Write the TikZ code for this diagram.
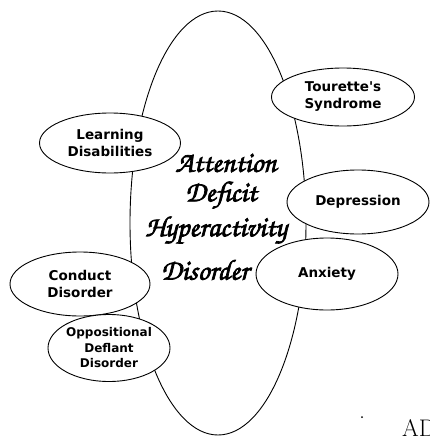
\documentclass[tikz,border=0pt]{standalone}
\usepackage{fontspec}
\usetikzlibrary{shapes.geometric}
\newfontfamily\lab{DejaVu Sans}
\newfontfamily\scr[FakeBold=2.5]{texgyrechorus-mediumitalic.otf}
\begin{document}
\begin{tikzpicture}[x=1pt,y=-1pt,
  oval/.style={draw,ellipse,line width=0.9pt,fill=white,inner sep=0pt,
    font=\lab\bfseries\fontsize{13.5}{17}\selectfont,align=center},
  big/.style={draw,line width=0.9pt},
  adhd/.style={font=\scr\fontsize{29}{29}\selectfont}]
\useasboundingbox (0,0) rectangle (429,437);
\draw[big] (218,223) ellipse [x radius=88, y radius=212];
\node[oval,minimum width=143pt,minimum height=58pt] (tour) at (343,97) {Tourette's\\Syndrome};
\node[oval,minimum width=141pt,minimum height=60pt] (ld) at (110,143) {Learning\\Disabilities};
\node[oval,minimum width=142pt,minimum height=64pt] (dep) at (358,202) {Depression};
\node[oval,minimum width=142pt,minimum height=72pt] (anx) at (327,274) {Anxiety};
\node[oval,minimum width=140pt,minimum height=64pt] (cd) at (80,284) {Conduct\\Disorder};
\node[oval,minimum width=122pt,minimum height=67pt,inner sep=-9pt,
  font=\lab\bfseries\fontsize{12}{15.5}\selectfont] (odd) at (109,348) {Oppositional\\Deflant\\Disorder};
\node[adhd] (t1) at (226,163) {Attention};
\node[adhd] (t2) at (221,195) {Deficit};
\node[adhd] (t3) at (216,230) {Hyperactivity};
\node[adhd] (t4) at (205,270) {Disorder};
\fill (362,417) circle (1pt);
\node[anchor=base west,font=\fontsize{24}{24}\selectfont,inner sep=0pt] (ad) at (402,436) {AD};
\end{tikzpicture}
\end{document}
